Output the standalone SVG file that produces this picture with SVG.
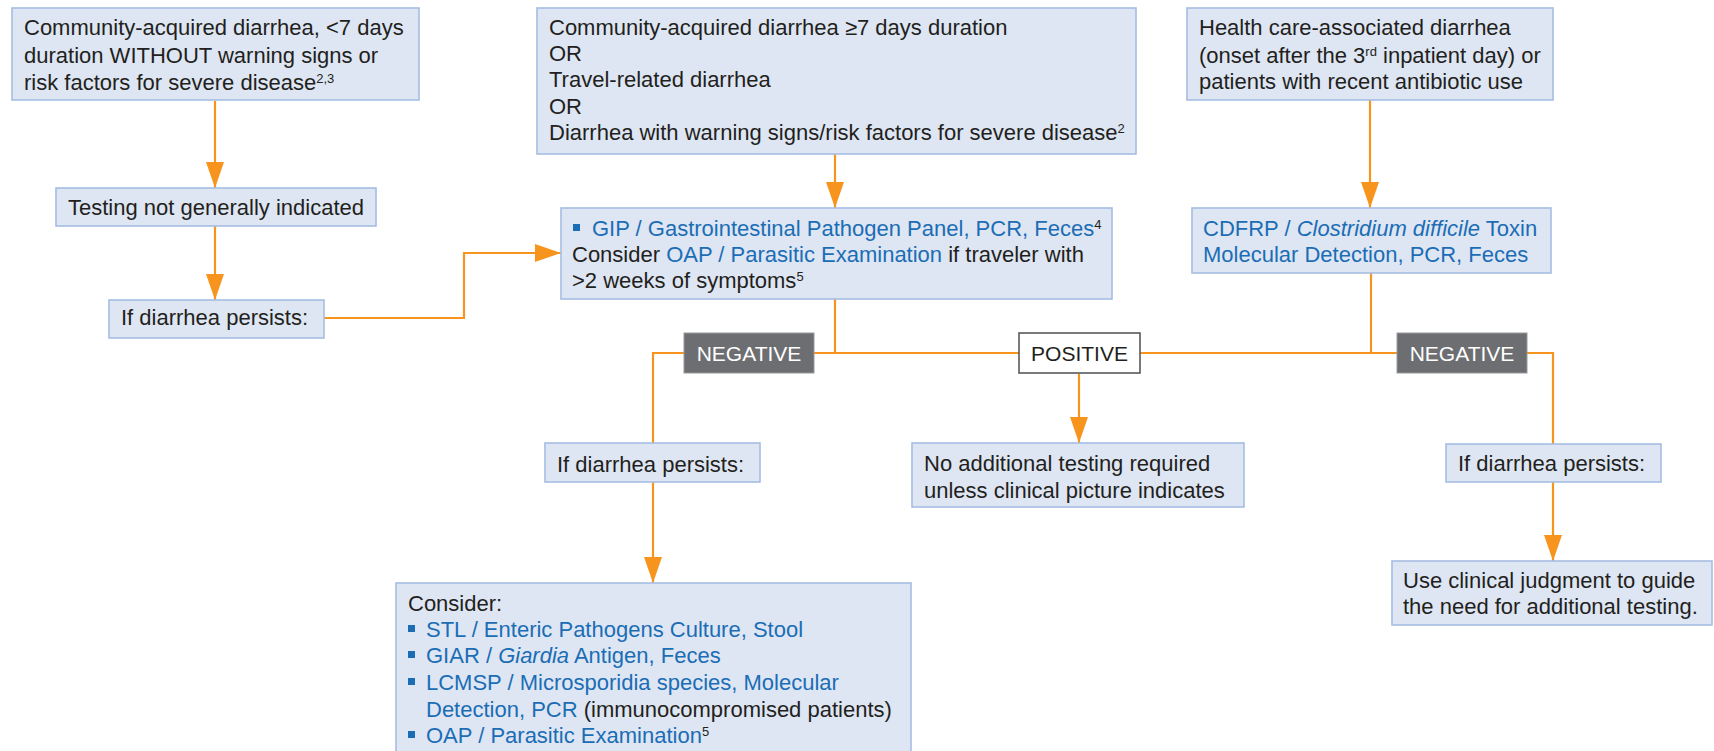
<svg xmlns="http://www.w3.org/2000/svg" width="1714" height="751" viewBox="0 0 1714 751">
<defs>
<style>
.box{fill:#DEE6F3;stroke:#A5BDE3;stroke-width:1.6}
.t{font-family:"Liberation Sans",Arial,Helvetica,sans-serif;font-size:22px;fill:#231F20}
.b{fill:#1B6DB5}
.i{font-style:italic}
.sup{font-size:13px}
.con{fill:none;stroke:#F7941E;stroke-width:2.2}
.neg{fill:#6D6E71;stroke:#98999B;stroke-width:1}
.pos{fill:#FFFFFF;stroke:#58595B;stroke-width:1.6}
.lbl{font-family:"Liberation Sans",Arial,Helvetica,sans-serif;font-size:21px;text-anchor:middle}
.bul{fill:#1B6DB5}
</style>
<marker id="ah" markerUnits="userSpaceOnUse" markerWidth="26" markerHeight="18" refX="26" refY="9" orient="auto">
<path d="M0,0 L26,9 L0,18 z" fill="#F7941E"/>
</marker>
</defs>
<rect x="0" y="0" width="1714" height="751" fill="#FFFFFF"/>

<g id="connectors">
<path class="con" d="M215,101 V188" marker-end="url(#ah)"/>
<path class="con" d="M215,226 V300" marker-end="url(#ah)"/>
<path class="con" d="M324,318 H464 V253 H561" marker-end="url(#ah)"/>
<path class="con" d="M835,154 V208" marker-end="url(#ah)"/>
<path class="con" d="M1370,100 V208" marker-end="url(#ah)"/>
<path class="con" d="M835,299 V353"/>
<path class="con" d="M1371,273 V353"/>
<path class="con" d="M653,443 V353 H1553 V444"/>
<path class="con" d="M653,482 V583" marker-end="url(#ah)"/>
<path class="con" d="M1079,374 V443" marker-end="url(#ah)"/>
<path class="con" d="M1553,482 V561" marker-end="url(#ah)"/>
</g>

<g id="n-community-short">
<rect class="box" x="12" y="8" width="407" height="92"/>
<text class="t" x="24" y="35">Community-acquired diarrhea, &lt;7 days</text>
<text class="t" x="24" y="63">duration WITHOUT warning signs or</text>
<text class="t" x="24" y="90">risk factors for severe disease<tspan class="sup" baseline-shift="super">2,3</tspan></text>
</g>

<g id="n-community-long">
<rect class="box" x="537" y="8" width="599" height="146"/>
<text class="t" x="549" y="35">Community-acquired diarrhea ≥7 days duration</text>
<text class="t" x="549" y="61">OR</text>
<text class="t" x="549" y="87">Travel-related diarrhea</text>
<text class="t" x="549" y="114">OR</text>
<text class="t" x="549" y="140">Diarrhea with warning signs/risk factors for severe disease<tspan class="sup" baseline-shift="super">2</tspan></text>
</g>

<g id="n-healthcare">
<rect class="box" x="1187" y="8" width="366" height="92"/>
<text class="t" x="1199" y="35">Health care-associated diarrhea</text>
<text class="t" x="1199" y="63">(onset after the 3<tspan class="sup" baseline-shift="super">rd</tspan> inpatient day) or</text>
<text class="t" x="1199" y="89">patients with recent antibiotic use</text>
</g>

<g id="n-testing">
<rect class="box" x="56" y="188" width="320" height="38"/>
<text class="t" x="68" y="215">Testing not generally indicated</text>
</g>

<g id="n-persists-1">
<rect class="box" x="109" y="300" width="215" height="38"/>
<text class="t" x="121" y="325">If diarrhea persists:</text>
</g>

<g id="n-gip">
<rect class="box" x="561" y="208" width="551" height="91"/>
<rect class="bul" x="573" y="224" width="7" height="7"/>
<text class="t" x="592" y="236"><tspan class="b">GIP / Gastrointestinal Pathogen Panel, PCR, Feces</tspan><tspan class="sup" baseline-shift="super">4</tspan></text>
<text class="t" x="572" y="262">Consider <tspan class="b">OAP / Parasitic Examination</tspan> if traveler with</text>
<text class="t" x="572" y="288">&gt;2 weeks of symptoms<tspan class="sup" baseline-shift="super">5</tspan></text>
</g>

<g id="n-cdfrp">
<rect class="box" x="1192" y="208" width="359" height="65"/>
<text class="t b" x="1203" y="236">CDFRP / <tspan class="i">Clostridium difficile</tspan> Toxin</text>
<text class="t b" x="1203" y="262">Molecular Detection, PCR, Feces</text>
</g>

<g id="n-negative-1">
<rect class="neg" x="684" y="333" width="130" height="40"/>
<text class="lbl" x="749" y="361" fill="#FFFFFF">NEGATIVE</text>
</g>

<g id="n-positive">
<rect class="pos" x="1019" y="333" width="121" height="40"/>
<text class="lbl" x="1079.5" y="361" fill="#231F20">POSITIVE</text>
</g>

<g id="n-negative-2">
<rect class="neg" x="1397" y="333" width="130" height="40"/>
<text class="lbl" x="1462" y="361" fill="#FFFFFF">NEGATIVE</text>
</g>

<g id="n-persists-2">
<rect class="box" x="545" y="443" width="215" height="39"/>
<text class="t" x="557" y="472">If diarrhea persists:</text>
</g>

<g id="n-noadditional">
<rect class="box" x="912" y="443" width="332" height="64"/>
<text class="t" x="924" y="471">No additional testing required</text>
<text class="t" x="924" y="498">unless clinical picture indicates</text>
</g>

<g id="n-persists-3">
<rect class="box" x="1446" y="444" width="215" height="38"/>
<text class="t" x="1458" y="471">If diarrhea persists:</text>
</g>

<g id="n-clinical">
<rect class="box" x="1392" y="561" width="320" height="64"/>
<text class="t" x="1403" y="588">Use clinical judgment to guide</text>
<text class="t" x="1403" y="614">the need for additional testing.</text>
</g>

<g id="n-consider">
<rect class="box" x="396" y="583" width="515" height="172"/>
<text class="t" x="408" y="611">Consider:</text>
<rect class="bul" x="408" y="625" width="7" height="7"/>
<text class="t b" x="426" y="637">STL / Enteric Pathogens Culture, Stool</text>
<rect class="bul" x="408" y="651" width="7" height="7"/>
<text class="t b" x="426" y="663">GIAR / <tspan class="i">Giardia</tspan> Antigen, Feces</text>
<rect class="bul" x="408" y="678" width="7" height="7"/>
<text class="t b" x="426" y="690">LCMSP / Microsporidia species, Molecular</text>
<text class="t" x="426" y="717"><tspan class="b">Detection, PCR</tspan> (immunocompromised patients)</text>
<rect class="bul" x="408" y="731" width="7" height="7"/>
<text class="t" x="426" y="743"><tspan class="b">OAP / Parasitic Examination</tspan><tspan class="sup" baseline-shift="super">5</tspan></text>
</g>
</svg>
